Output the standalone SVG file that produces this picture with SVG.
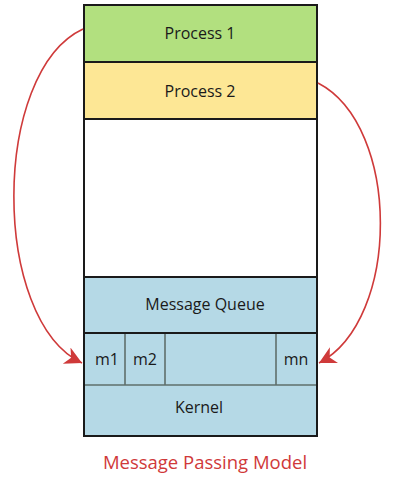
<svg xmlns="http://www.w3.org/2000/svg" width="400" height="500" viewBox="0 0 400 500">
<defs>
<style>
.lbl{font-family:"Open Sans","Noto Sans","Liberation Sans",sans-serif;font-size:16px;fill:#1a1a1a;text-anchor:middle}
.title{font-family:"Open Sans","Noto Sans","Liberation Sans",sans-serif;font-size:18.5px;fill:#d0393a;text-anchor:middle}
.edge{fill:none;stroke:#cf3a3a;stroke-width:1.6}
.div{stroke:#5f6f6b;stroke-width:1.6}
.dark{stroke:#1a1a1a;stroke-width:2}
</style>
<marker id="arr" markerWidth="22" markerHeight="22" refX="17" refY="10" orient="auto" markerUnits="userSpaceOnUse">
<path d="M17,10 L0,1 L5,10 L0,19 Z" fill="#cf3a3a"/>
</marker>
</defs>
<rect width="400" height="500" fill="#ffffff"/>
<g id="process1">
<rect x="84" y="5" width="233" height="57" fill="#b2e07f"/>
<text class="lbl" x="200" y="39">Process 1</text>
</g>
<g id="process2">
<rect x="84" y="62" width="233" height="57" fill="#fde795"/>
<text class="lbl" x="200" y="97">Process 2</text>
</g>
<g id="message-queue">
<rect x="84" y="277" width="233" height="56" fill="#b5d9e6"/>
<text class="lbl" x="205" y="310">Message Queue</text>
</g>
<g id="m1">
<rect x="84" y="333" width="41" height="52" fill="#b5d9e6"/>
<text class="lbl" x="107" y="365">m1</text>
</g>
<g id="m2">
<rect x="125" y="333" width="40" height="52" fill="#b5d9e6"/>
<text class="lbl" x="145" y="365">m2</text>
</g>
<g id="m-empty">
<rect x="165" y="333" width="111" height="52" fill="#b5d9e6"/>
</g>
<g id="mn">
<rect x="276" y="333" width="41" height="52" fill="#b5d9e6"/>
<text class="lbl" x="296" y="365">mn</text>
</g>
<g id="kernel">
<rect x="84" y="385" width="233" height="51" fill="#b5d9e6"/>
<text class="lbl" x="199" y="413">Kernel</text>
</g>
<g id="lines">
<line class="div" x1="125" y1="333" x2="125" y2="385"/>
<line class="div" x1="165" y1="333" x2="165" y2="385"/>
<line class="div" x1="276" y1="333" x2="276" y2="385"/>
<line class="div" x1="84" y1="385" x2="317" y2="385"/>
<line class="dark" x1="84" y1="62" x2="317" y2="62"/>
<line class="dark" x1="84" y1="119" x2="317" y2="119"/>
<line class="dark" x1="84" y1="277" x2="317" y2="277"/>
<line class="dark" x1="84" y1="333" x2="317" y2="333"/>
<rect x="84" y="5" width="233" height="431" fill="none" stroke="#1a1a1a" stroke-width="2"/>
</g>
<g id="connectors">
<path class="edge" d="M83,29 C-9,72 -9,320 82,363" marker-end="url(#arr)"/>
<path class="edge" d="M318,83 C401,126 401,320 319,363" marker-end="url(#arr)"/>
</g>
<text class="title" x="205" y="469">Message Passing Model</text>
</svg>
